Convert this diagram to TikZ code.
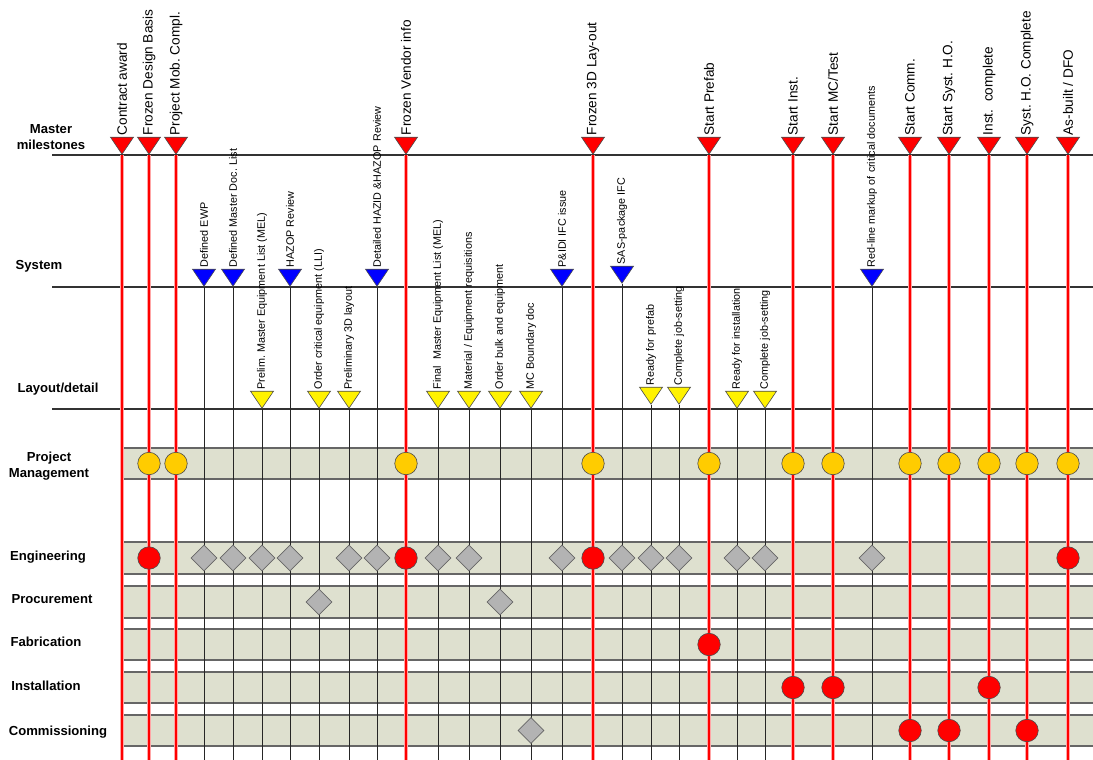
\documentclass[tikz,border=0pt]{standalone}
\usepackage{fontspec}
\setmainfont{Liberation Sans}
\frenchspacing
\usetikzlibrary{shapes.geometric}
\definecolor{lanebg}{HTML}{DEE0CF}
\definecolor{gold}{HTML}{FFCC00}
\definecolor{diagray}{HTML}{B3B3B3}
\tikzstyle{tri} = [isosceles triangle, shape border rotate=-90, isosceles triangle stretches, minimum width=23pt, minimum height=17pt, inner sep=0pt, anchor=apex, draw=black!70, line width=0.6pt]
\tikzstyle{redtri} = [tri, fill=red]
\tikzstyle{bluetri} = [tri, fill=blue]
\tikzstyle{yellowtri} = [tri, fill=yellow]
\tikzstyle{mstext} = [rotate=90, anchor=west, inner sep=1.5pt, font=\fontsize{13.6}{15}\selectfont]
\tikzstyle{smalltext} = [rotate=90, anchor=west, inner sep=1.5pt, font=\fontsize{10.8}{12}\selectfont]
\tikzstyle{rowlabel} = [align=center, inner sep=0pt, font=\fontsize{13.1}{16.5}\selectfont\bfseries]
\tikzstyle{redline} = [draw=red, line width=2.6pt, preaction={draw=red!35, line width=4pt}]
\tikzstyle{thinline} = [draw=black!85, line width=0.9pt]
\tikzstyle{level} = [draw=black!80, line width=1.7pt]
\tikzstyle{laneedge} = [draw=black!60, line width=1.4pt]
\tikzstyle{pmdot} = [circle, minimum size=22.5pt, inner sep=0pt, fill=gold, draw=black!70, line width=0.6pt]
\tikzstyle{keydot} = [pmdot, fill=red]
\tikzstyle{task} = [diamond, minimum size=26pt, inner sep=0pt, fill=diagray, draw=black!60, line width=0.6pt]

\begin{document}
\begin{tikzpicture}[x=1pt, y=-1pt]
\useasboundingbox (0,0) rectangle (1093,760);
\coordinate (bot) at (0,760);

% lanes
\foreach \ya/\yb in {448/479, 542/574, 586/618, 629/660, 672/703, 715/746}{
  \fill[lanebg] (123,\ya) rectangle (1093,\yb);
  \draw[laneedge] (123,\ya) -- (1093,\ya) (123,\yb) -- (1093,\yb);
}
\foreach \y in {155, 287, 409}
  \draw[level] (52,\y) -- (1093,\y);

% row labels
\node[rowlabel] (lmaster) at (51,137) {Master\\milestones};
\node[rowlabel] (lsys) at (39,266) {System};
\node[rowlabel] (llay) at (58,389) {Layout/detail};
\node[rowlabel] (lpm) at (49,466) {Project\\Management};
\node[rowlabel] (leng) at (48,557) {Engineering};
\node[rowlabel] (lproc) at (52,599) {Procurement};
\node[rowlabel] (lfab) at (46,642) {Fabrication};
\node[rowlabel] (linst) at (46,686) {Installation};
\node[rowlabel] (lcomm) at (58,732) {Commissioning};

% master milestones
\foreach \x/\t [count=\i] in {122/Contract award, 149/Frozen Design Basis, 176/Project Mob. Compl., 406/Frozen Vendor info, 593/Frozen 3D Lay-out, 709/Start Prefab, 793/Start Inst., 833/{Start MC/Test}, 910/Start Comm., 949/Start Syst. H.O., 989/Inst.\ \ complete, 1027/Syst. H.O. Complete, 1068/{As-built / DFO}}{
  \node[redtri] (m\i) at (\x,155) {};
  \node[mstext] (mt\i) at (m\i.north) {\t};
  \draw[redline] (m\i.apex) -- (m\i.apex |- bot);
}

% system
\foreach \x/\y/\t [count=\i] in {204/287/Defined EWP, 233/287/Defined Master Doc. List, 290/287/HAZOP Review, 377/287/Detailed HAZID \&HAZOP Review, 562/287/P\&IDI IFC issue, 622/284/SAS-package IFC, 872/287/Red-line markup of critical documents}{
  \node[bluetri] (s\i) at (\x,\y) {};
  \node[smalltext] (st\i) at (s\i.north) {\t};
  \draw[thinline] (s\i.apex) -- (s\i.apex |- bot);
}

% layout/detail
\foreach \x/\y/\t [count=\i] in {262/409/Prelim. Master Equipment List (MEL), 319/409/Order critical equipment (LLI), 349/409/Preliminary 3D layout, 438/409/Final\ \ Master Equipment List (MEL), 469/409/{Material / Equipment requisitions}, 500/409/Order bulk and equipment, 531/409/MC Boundary doc, 651/405/Ready for prefab, 679/405/Complete job-setting, 737/409/Ready for installation, 765/409/Complete job-setting}{
  \node[yellowtri] (d\i) at (\x,\y) {};
  \node[smalltext] (dt\i) at (d\i.north) {\t};
  \draw[thinline] (d\i.apex) -- (d\i.apex |- bot);
}

% markers in the lanes
\foreach \x [count=\i] in {149,176,406,593,709,793,833,910,949,989,1027,1068}
  \node[pmdot] (pm\i) at (\x,463.5) {};
\foreach \x [count=\i] in {204,233,262,290,349,377,438,469,562,622,651,679,737,765,872}
  \node[task] (et\i) at (\x,558) {};
\foreach \x [count=\i] in {149,406,593,1068}
  \node[keydot] (ek\i) at (\x,558) {};
\foreach \x [count=\i] in {319,500}
  \node[task] (pt\i) at (\x,602) {};
\node[keydot] (fk1) at (709,644.5) {};
\foreach \x [count=\i] in {793,833,989}
  \node[keydot] (ik\i) at (\x,687.5) {};
\node[task] (ct1) at (531,730.5) {};
\foreach \x [count=\i] in {910,949,1027}
  \node[keydot] (ck\i) at (\x,730.5) {};
\end{tikzpicture}
\end{document}
